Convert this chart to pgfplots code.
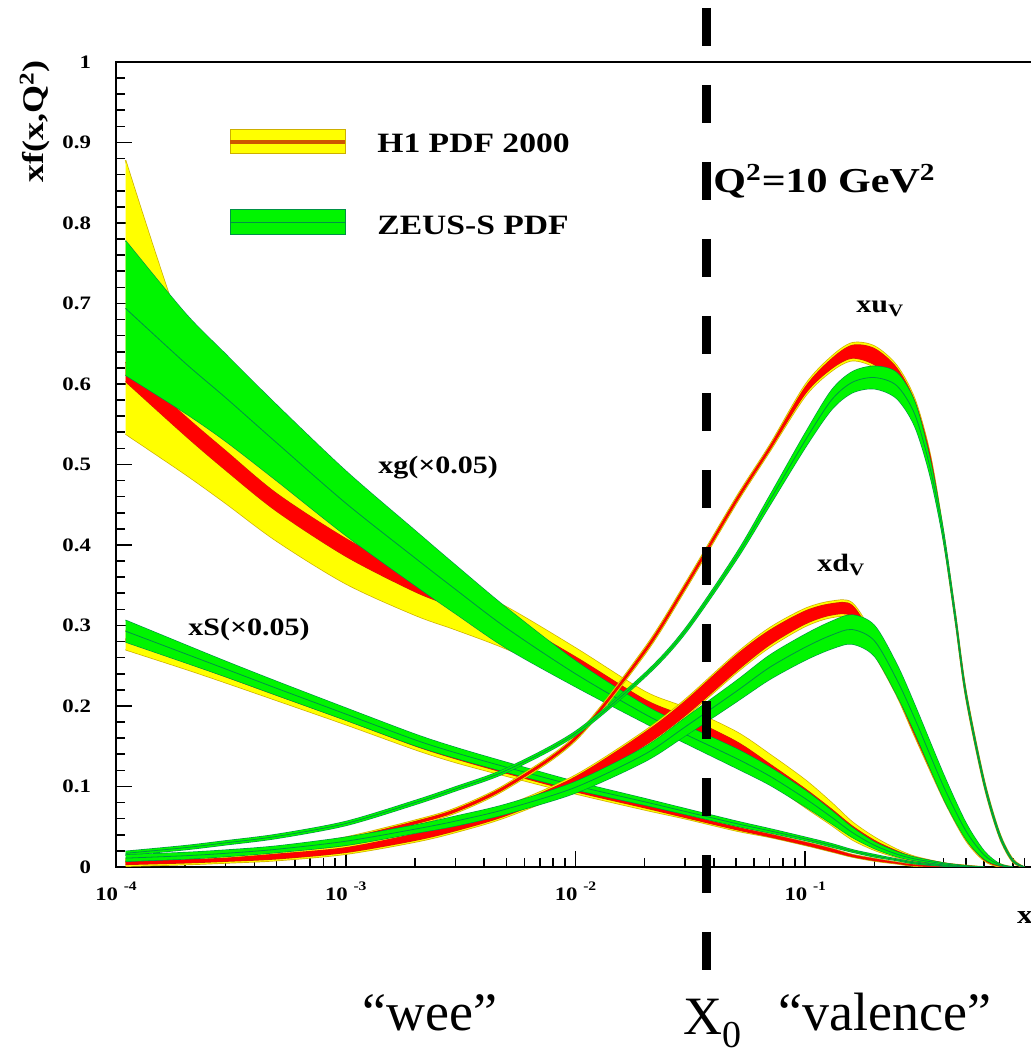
\documentclass[border=0pt]{standalone}
\usepackage{fontspec}
\setmainfont{Liberation Serif}
\newfontfamily\rootfont[FakeStretch=1.2]{Liberation Serif}
\usepackage{pgfplots}
\usepackage{pgfplotstable}
\usepgfplotslibrary{fillbetween}
\pgfplotsset{compat=1.18}

\definecolor{pdfyellow}{RGB}{255,255,0}
\definecolor{pdfred}{RGB}{255,0,0}
\definecolor{pdfgreen}{RGB}{0,245,0}
\definecolor{yedge}{RGB}{205,175,0}
\definecolor{redge}{RGB}{200,40,0}
\definecolor{zedge}{RGB}{0,145,70}
\definecolor{hline}{RGB}{205,85,0}

% columns: H1 total band (ylo,yhi), H1 exp band (rlo,rhi), ZEUS-S band (glo,gc,ghi)
\pgfplotstableread{
x      ylo    rlo    rhi    yhi    glo    gc     ghi
1.1e-4 0.538  0.603  0.627  0.878  0.611  0.694  0.778
2e-4   0.488  0.536  0.560  0.655  0.564  0.626  0.688
3e-4   0.452  0.493  0.517  0.575  0.529  0.583  0.637
5e-4   0.405  0.442  0.464  0.500  0.480  0.527  0.574
1e-3   0.352  0.386  0.408  0.425  0.412  0.452  0.492
2e-3   0.313  0.342  0.362  0.375  0.350  0.384  0.418
3e-3   0.295  0.322  0.340  0.352  0.315  0.345  0.375
5e-3   0.271  0.294  0.310  0.323  0.272  0.297  0.322
0.01   0.232  0.247  0.261  0.272  0.224  0.240  0.256
0.02   0.184  0.196  0.208  0.218  0.179  0.190  0.201
0.03   0.164  0.173  0.187  0.198  0.154  0.165  0.176
0.05   0.133  0.140  0.156  0.168  0.123  0.135  0.147
0.07   0.105  0.112  0.128  0.140  0.102  0.113  0.124
0.1    0.074  0.081  0.097  0.108  0.075  0.085  0.095
0.13   0.052  0.058  0.072  0.080  0.054  0.062  0.070
0.16   0.034  0.039  0.051  0.056  0.037  0.043  0.049
0.2    0.021  0.025  0.033  0.037  0.023  0.027  0.031
0.25   0.012  0.014  0.020  0.022  0.013  0.016  0.019
0.3    0.007  0.008  0.012  0.013  0.008  0.010  0.012
0.4    0.003  0.003  0.005  0.005  0.003  0.004  0.005
0.5    0      0.0005 0.0015 0.002  0.0005 0.001  0.0015
0.6    0      0      0      0      0      0      0
}\xgtab

\pgfplotstableread{
x      ylo    rlo    rhi    yhi    glo    gc     ghi
1.1e-4 0.270  0.2805 0.2835 0.294  0.2795 0.293  0.3065
2e-4   0.246  0.2545 0.2575 0.266  0.254  0.265  0.276
3e-4   0.229  0.2365 0.2395 0.247  0.2365 0.246  0.2555
5e-4   0.207  0.2135 0.2165 0.223  0.2135 0.222  0.2305
1e-3   0.177  0.1825 0.1855 0.191  0.1825 0.190  0.1975
2e-3   0.146  0.1505 0.1535 0.158  0.151  0.158  0.165
3e-3   0.130  0.1345 0.1375 0.142  0.1355 0.142  0.1485
5e-3   0.113  0.1165 0.1195 0.123  0.118  0.124  0.130
0.01   0.091  0.0935 0.0965 0.099  0.096  0.101  0.106
0.02   0.071  0.0735 0.0765 0.079  0.077  0.081  0.085
0.03   0.060  0.0615 0.0645 0.066  0.0655 0.069  0.0725
0.05   0.045  0.0465 0.0495 0.051  0.051  0.054  0.057
0.07   0.037  0.0375 0.0405 0.041  0.0425 0.045  0.0475
0.1    0.027  0.0275 0.0305 0.031  0.033  0.035  0.037
0.13   0.019  0.0195 0.0225 0.023  0.025  0.027  0.029
0.16   0.0125 0.013  0.015  0.0155 0.0185 0.020  0.0215
0.2    0.0075 0.008  0.010  0.0105 0.0125 0.014  0.0155
0.25   0.004  0.0045 0.0055 0.006  0.008  0.009  0.010
0.3    0.001  0.0015 0.0025 0.003  0.004  0.005  0.006
0.4    0      0      0.001  0.001  0.001  0.0015 0.002
0.5    0      0      0      0      0      0      0
}\xstab

\pgfplotstableread{
x      ylo    rlo    rhi    yhi    glo    gc     ghi
1.1e-4 0.004  0.0055 0.0085 0.010  0.0145 0.017  0.0195
2e-4   0.007  0.0085 0.0115 0.013  0.0215 0.024  0.0265
3e-4   0.010  0.0115 0.0145 0.016  0.0275 0.030  0.0325
5e-4   0.016  0.0175 0.0205 0.022  0.0355 0.038  0.0405
1e-3   0.031  0.0325 0.0355 0.037  0.0515 0.054  0.0565
2e-3   0.052  0.0535 0.0565 0.058  0.0775 0.080  0.0825
3e-3   0.067  0.0685 0.0715 0.073  0.0945 0.097  0.0995
5e-3   0.097  0.0985 0.1015 0.103  0.1175 0.120  0.1225
0.01   0.157  0.1585 0.1615 0.163  0.1635 0.166  0.1685
0.02   0.264  0.266  0.270  0.272  0.2355 0.238  0.2405
0.03   0.344  0.346  0.350  0.352  0.290  0.293  0.296
0.05   0.451  0.453  0.457  0.459  0.381  0.385  0.389
0.07   0.516  0.518  0.522  0.524  0.449  0.455  0.461
0.1    0.585  0.588  0.596  0.599  0.521  0.530  0.539
0.13   0.616  0.619  0.631  0.634  0.568  0.580  0.592
0.16   0.629  0.632  0.648  0.651  0.589  0.602  0.615
0.2    0.621  0.624  0.644  0.647  0.594  0.608  0.622
0.25   0.597  0.600  0.620  0.623  0.582  0.598  0.614
0.3    0.559  0.562  0.578  0.581  0.547  0.562  0.577
0.35   0.498  0.500  0.510  0.512  0.485  0.495  0.505
0.4    0.405  0.407  0.413  0.415  0.404  0.410  0.416
0.45   0.305  0.307  0.313  0.315  0.306  0.310  0.314
0.5    0.210  0.212  0.218  0.220  0.212  0.215  0.218
0.6    0.101  0.103  0.107  0.109  0.1025 0.105  0.1075
0.7    0.037  0.0385 0.0415 0.043  0.038  0.040  0.042
0.8    0.006  0.007  0.009  0.010  0.007  0.008  0.009
0.9    0      0      0      0      0      0      0
}\xutab

\pgfplotstableread{
x      ylo    rlo    rhi    yhi    glo    gc     ghi
1.1e-4 0.001  0.003  0.007  0.009  0.007  0.011  0.015
2e-4   0.003  0.005  0.009  0.011  0.010  0.014  0.018
3e-4   0.005  0.007  0.011  0.013  0.013  0.017  0.021
5e-4   0.008  0.010  0.016  0.018  0.018  0.022  0.026
1e-3   0.016  0.018  0.024  0.026  0.027  0.032  0.037
2e-3   0.031  0.033  0.041  0.043  0.042  0.047  0.052
3e-3   0.043  0.045  0.053  0.055  0.051  0.057  0.063
5e-3   0.062  0.064  0.074  0.076  0.066  0.072  0.078
0.01   0.098  0.100  0.112  0.114  0.092  0.099  0.106
0.02   0.149  0.151  0.167  0.169  0.131  0.140  0.149
0.03   0.186  0.188  0.206  0.208  0.163  0.174  0.185
0.05   0.241  0.243  0.263  0.265  0.205  0.218  0.231
0.07   0.273  0.276  0.294  0.297  0.233  0.248  0.263
0.1    0.299  0.302  0.318  0.321  0.257  0.273  0.289
0.13   0.310  0.313  0.327  0.330  0.271  0.288  0.305
0.16   0.308  0.311  0.325  0.328  0.277  0.295  0.313
0.2    0.264  0.267  0.283  0.286  0.262  0.281  0.300
0.25   0.213  0.215  0.235  0.237  0.214  0.233  0.252
0.3    0.162  0.164  0.186  0.188  0.167  0.184  0.201
0.4    0.084  0.086  0.104  0.106  0.085  0.100  0.115
0.5    0.033  0.035  0.045  0.047  0.035  0.045  0.055
0.6    0.008  0.009  0.015  0.016  0.010  0.015  0.020
0.7    0      0.001  0.003  0.004  0.002  0.003  0.004
0.8    0      0      0      0      0      0      0
}\xdtab

% one PDF: H1 yellow band, H1 red band, ZEUS-S green band with its central line
\newcommand{\pdfset}[2]{%
  \addplot[name path=#2ya, draw=yedge, line width=0.7pt, smooth] table[x=x, y=ylo] {#1};
  \addplot[name path=#2yb, draw=yedge, line width=0.7pt, smooth] table[x=x, y=yhi] {#1};
  \addplot[fill=pdfyellow, draw=none] fill between[of=#2ya and #2yb];
  \addplot[name path=#2ra, draw=redge, line width=0.5pt, smooth] table[x=x, y=rlo] {#1};
  \addplot[name path=#2rb, draw=redge, line width=0.5pt, smooth] table[x=x, y=rhi] {#1};
  \addplot[fill=pdfred, draw=none] fill between[of=#2ra and #2rb];
  \addplot[name path=#2ga, draw=zedge, line width=0.6pt, smooth] table[x=x, y=glo] {#1};
  \addplot[name path=#2gb, draw=zedge, line width=0.6pt, smooth] table[x=x, y=ghi] {#1};
  \addplot[fill=pdfgreen, draw=none] fill between[of=#2ga and #2gb];
  \addplot[draw=zedge, line width=0.4pt, smooth] table[x=x, y=gc] {#1};
}

\newcommand{\tenexp}[1]{10\hspace{0.3em}\raisebox{0.5em}{\fontsize{6.5}{7}\selectfont #1}}

\begin{document}
\begin{tikzpicture}
\tikzset{fill between/on layer=main}
\begin{axis}[
    scale only axis, width=459.5pt, height=402.5pt,
    at={(0,0)}, anchor=south west,
    xmode=log, xmin=1e-4, xmax=1, ymin=0, ymax=1,
    clip mode=individual,
    axis line style={line width=1.1pt},
    xtick={1e-4,1e-3,1e-2,1e-1},
    xticklabels={\tenexp{-4},\tenexp{-3},\tenexp{-2},\tenexp{-1}},
    minor xtick={2e-4,3e-4,4e-4,5e-4,6e-4,7e-4,8e-4,9e-4,
                 2e-3,3e-3,4e-3,5e-3,6e-3,7e-3,8e-3,9e-3,
                 0.02,0.03,0.04,0.05,0.06,0.07,0.08,0.09,
                 0.2,0.3,0.4,0.5,0.6,0.7,0.8,0.9},
    ytick={0,0.1,0.2,0.3,0.4,0.5,0.6,0.7,0.8,0.9,1},
    minor y tick num=4,
    xtick pos=bottom, ytick pos=left,
    tick align=inside,
    major tick length=8pt, minor tick length=4.5pt,
    every tick/.style={black, line width=0.8pt},
    tick label style={font=\rootfont\bfseries\fontsize{9.5}{10}\selectfont},
    /pgf/number format/assume math mode=true,
    yticklabel style={xshift=-9pt},
    xticklabel style={yshift=-4pt},
]
\pdfset{\xgtab}{xg}
\pdfset{\xstab}{xs}
\pdfset{\xutab}{xu}
\pdfset{\xdtab}{xd}
\end{axis}

% annotations, in pixel units of the reference (origin top left)
\begin{scope}[x=0.5pt, y=-0.5pt, shift={(-58pt,433.5pt)}]
  \node[rotate=90, anchor=east, inner sep=0,
        font=\rootfont\bfseries\fontsize{15}{16}\selectfont] at (35,60) {xf(x,Q\textsuperscript{2})};
  \node[font=\rootfont\bfseries\fontsize{13}{14}\selectfont] at (1025,918) {x};

  \fill[pdfyellow, draw=yedge, line width=0.5pt] (230,130) rectangle (345,154);
  \draw[hline, line width=1.6pt] (230,142) -- (345,142);
  \fill[pdfgreen, draw=zedge, line width=0.5pt] (230,210) rectangle (345,235);
  \draw[zedge, line width=0.5pt] (230,222.5) -- (345,222.5);
  \node[anchor=base west, inner sep=0, font=\rootfont\bfseries\fontsize{14}{16}\selectfont]
      at (377,153) {H1 PDF 2000};
  \node[anchor=base west, inner sep=0, font=\rootfont\bfseries\fontsize{14}{16}\selectfont]
      at (377,235) {ZEUS-S PDF};

  \node[anchor=base west, inner sep=0, font=\rootfont\bfseries\fontsize{17.5}{19}\selectfont]
      at (713,193) {Q\textsuperscript{2}=10 GeV\textsuperscript{2}};
  \node[anchor=base west, inner sep=0, font=\rootfont\bfseries\fontsize{12.5}{14}\selectfont]
      at (378,474) {xg(×0.05)};
  \node[anchor=base west, inner sep=0, font=\rootfont\bfseries\fontsize{12.5}{14}\selectfont]
      at (188,636) {xS(×0.05)};
  \node[anchor=base west, inner sep=0, font=\rootfont\bfseries\fontsize{12.5}{14}\selectfont]
      at (856,313) {xu\textsubscript{V}};
  \node[anchor=base west, inner sep=0, font=\rootfont\bfseries\fontsize{12.5}{14}\selectfont]
      at (817,572) {xd\textsubscript{V}};

  \draw[black, line width=4.5pt, dash pattern=on 19pt off 19.5pt] (706,8) -- (706,970);

  \node[anchor=base, inner sep=0, font=\fontsize{27}{30}\selectfont] at (430,1030) {“wee”};
  \node[anchor=base, inner sep=0, font=\fontsize{27}{30}\selectfont] at (885,1030) {“valence”};
  \node[anchor=base west, inner sep=0, font=\fontsize{27}{30}\selectfont]
      at (683,1034) {X\raisebox{-0.25em}{\fontsize{19}{19}\selectfont 0}};
\end{scope}

\pgfresetboundingbox
\useasboundingbox (-58pt,-93.5pt) rectangle (457.5pt,433.5pt);
\end{tikzpicture}
\end{document}
